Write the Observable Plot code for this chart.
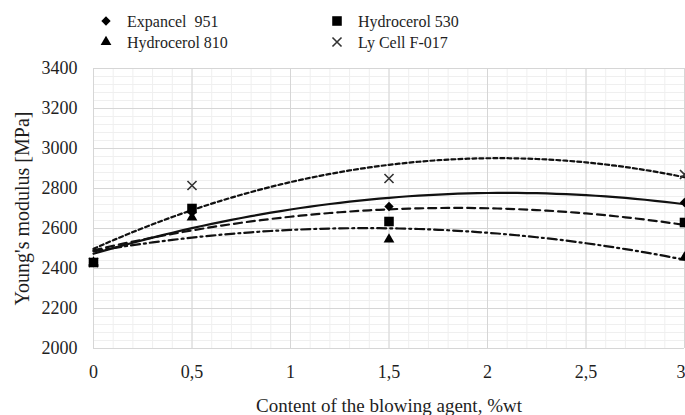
<!DOCTYPE html>
<html>
<head>
<meta charset="utf-8">
<script src="https://cdn.jsdelivr.net/npm/d3@7"></script>
<script src="https://cdn.jsdelivr.net/npm/@observablehq/plot@0.6"></script>
<style>
  html, body { margin: 0; padding: 0; background: white; }
  #wrap { width: 685px; height: 415px; position: relative; overflow: hidden; }
</style>
</head>
<body>
<div id="wrap"></div>
<script>
// ---- data ----
const content = [0, 0.5, 1.5, 3];                 // %wt
const expancel951   = [2430, 2680, 2710, 2730];
const hydrocerol530 = [2430, 2700, 2635, 2630];
const hydrocerol810 = [2430, 2655, 2545, 2455];
const lyCellF017    = [2430, 2815, 2850, 2870];
const seriesNames = ["Expancel  951", "Hydrocerol 530", "Hydrocerol 810", "Ly Cell F-017"];
const xTicks = [0, 0.5, 1, 1.5, 2, 2.5, 3];
const yTicks = [2000, 2200, 2400, 2600, 2800, 3000, 3200, 3400];

const FONT = '"Liberation Serif", "Times New Roman", serif';

const series = [
  {name: seriesNames[0], values: expancel951,   symbol: "diamond2", r: 4.2, dash: null},
  {name: seriesNames[1], values: hydrocerol530, symbol: "square",   r: 5.4, dash: "8,5"},
  {name: seriesNames[2], values: hydrocerol810, symbol: "triangle", r: 4.0, dash: "9,4,2,4"},
  {name: seriesNames[3], values: lyCellF017,    symbol: "times",    r: 4.2, dash: "4,3"}
];

// 2nd-order polynomial least-squares trendline (as Excel does)
function quadFit(xs, ys) {
  const S = k => d3.sum(xs, x => x ** k);
  const T = k => d3.sum(xs, (x, i) => x ** k * ys[i]);
  const A = [[S(0), S(1), S(2), T(0)], [S(1), S(2), S(3), T(1)], [S(2), S(3), S(4), T(2)]];
  for (let i = 0; i < 3; i++) {
    for (let j = i + 1; j < 3; j++) {
      const f = A[j][i] / A[i][i];
      for (let k = i; k < 4; k++) A[j][k] -= f * A[i][k];
    }
  }
  const c = [0, 0, 0];
  for (let i = 2; i >= 0; i--) {
    let s = A[i][3];
    for (let k = i + 1; k < 3; k++) s -= A[i][k] * c[k];
    c[i] = s / A[i][i];
  }
  return x => c[0] + c[1] * x + c[2] * x * x;
}

const fmtX = d => String(d).replace(".", ",");

const marks = [
  Plot.ruleY(d3.range(2000, 3401, 40), {stroke: "#efefef", strokeWidth: 1}),
  Plot.ruleX(d3.range(0, 30.5, 1).map(d => d / 10), {stroke: "#efefef", strokeWidth: 1}),
  Plot.ruleY(yTicks, {stroke: "#d6d6d6", strokeWidth: 1}),
  Plot.ruleX(xTicks, {stroke: "#d6d6d6", strokeWidth: 1}),
  Plot.axisX(xTicks.slice(0, -1), {tickSize: 0, tickPadding: 17, fontSize: 18, tickFormat: fmtX, label: null}),
  Plot.axisX(xTicks.slice(-1), {tickSize: 0, tickPadding: 17, fontSize: 18, tickFormat: fmtX, label: null, textAnchor: "end", dx: 1}),
  Plot.axisY(yTicks, {tickSize: 0, tickPadding: 16, fontSize: 18, tickFormat: d => String(d), label: null}),
  Plot.text(["Content of the blowing agent, %wt"], {frameAnchor: "bottom", dy: 57, fontSize: 19, lineAnchor: "middle", textAnchor: "middle"}),
  Plot.text(["Young's modulus [MPa]"], {frameAnchor: "left", dx: -71, rotate: -90, fontSize: 20, lineAnchor: "middle", textAnchor: "middle"})
];

for (const s of series) {
  const f = quadFit(content, s.values);
  const trend = d3.range(0, 61).map(i => ({x: i * 0.05, y: f(i * 0.05)}));
  marks.push(Plot.line(trend, {x: "x", y: "y", stroke: "#111", strokeWidth: 2.2,
    strokeDasharray: s.dash || undefined, curve: "linear"}));
}
// draw points: times first, then others, square last
for (const s of [series[3], series[2], series[0], series[1]]) {
  const pts = content.map((x, i) => ({x, y: s.values[i]}));
  if (s.symbol === "times") {
    marks.push(Plot.dot(pts, {x: "x", y: "y", symbol: "times", r: s.r, stroke: "#333", strokeWidth: 1.6}));
  } else {
    marks.push(Plot.dot(pts, {x: "x", y: "y", symbol: s.symbol, r: s.r, fill: "#000", stroke: "none"}));
  }
}

const legendH = 56;
const chart = Plot.plot({
  width: 685, height: 415 - legendH,
  marginLeft: 93, marginRight: 1, marginTop: 12, marginBottom: 67,
  x: {domain: [0, 3]},
  y: {domain: [2000, 3400]},
  style: {fontFamily: FONT, fontSize: "18px", color: "#1e1e1e", background: "white", overflow: "visible"},
  marks
});

// legend (above the plot)
const leg = d3.create("svg").attr("width", 685).attr("height", legendH)
  .style("display", "block").style("font-family", FONT);
const pos = [[106, 21], [337, 21], [106, 42], [337, 42]];
const symMap = {diamond2: d3.symbolDiamond2, square: d3.symbolSquare, triangle: d3.symbolTriangle, times: d3.symbolTimes};
series.forEach((s, i) => {
  const [x, y] = pos[i];
  const size = Math.PI * s.r * s.r;
  const p = leg.append("path").attr("transform", `translate(${x},${y})`)
    .attr("d", d3.symbol(symMap[s.symbol], size)());
  if (s.symbol === "times") p.attr("fill", "none").attr("stroke", "#333").attr("stroke-width", 1.6);
  else p.attr("fill", "#000");
  leg.append("text").attr("x", x + 21).attr("y", y).attr("dy", "0.35em")
    .attr("font-size", 16).attr("fill", "#1e1e1e")
    .style("white-space", "pre").text(s.name);
});

const wrap = document.getElementById("wrap");
wrap.appendChild(leg.node());
wrap.appendChild(chart);
</script>
</body>
</html>
